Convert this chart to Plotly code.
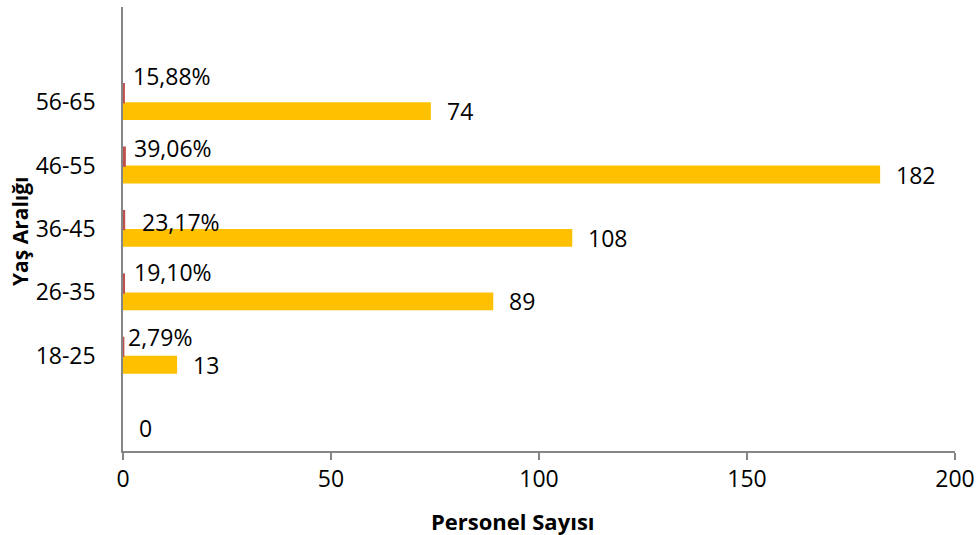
import plotly.graph_objects as go

# ---- data ----
categories = [" ", "18-25", "26-35", "36-45", "46-55", "56-65"]
counts = [0, 13, 89, 108, 182, 74]
percents = [None, 0.0279, 0.1910, 0.2317, 0.3906, 0.1588]
x_ticks = [0, 50, 100, 150, 200]

# ---- style ----
FONT = "Open Sans"
FS = 23
ORANGE = "#FFC000"
RED = "#C0504D"
AXIS = "#868686"
# label nudges (px) for percentage labels, per category (xshift, yshift)
pct_nudge = [(0, 0), (3, 19), (8, 20), (16, 7), (7, 18), (7, 26)]

fig = go.Figure()
fig.add_trace(go.Bar(y=categories, x=counts, orientation="h",
                     marker=dict(color=ORANGE, line=dict(width=0)),
                     name="Personel Sayısı"))
fig.add_trace(go.Bar(y=categories, x=percents, orientation="h",
                     marker=dict(color=RED, line=dict(color=RED, width=2.5)),
                     name="Oran"))

annotations = []
for c, v in zip(categories, counts):
    annotations.append(dict(x=v, y=c, xref="x", yref="y", text=str(v),
                            showarrow=False, xanchor="left", yanchor="middle",
                            xshift=14, yshift=-9,
                            font=dict(family=FONT, size=FS, color="black")))
for (c, p), (dx, dy) in zip(zip(categories, percents), pct_nudge):
    if p is None:
        continue
    annotations.append(dict(x=p, y=c, xref="x", yref="y",
                            text=f"{p*100:.2f}".replace(".", ",") + "%",
                            showarrow=False, xanchor="left", yanchor="middle",
                            xshift=dx, yshift=dy,
                            font=dict(family=FONT, size=FS, color="black")))
annotations.append(dict(x=(513 - 123) / (955 - 123), y=-70 / 444,
                        xref="paper", yref="paper",
                        text="<b>Personel Sayısı</b>", showarrow=False,
                        xanchor="center", yanchor="middle",
                        font=dict(family=FONT, size=22, color="black")))
annotations.append(dict(x=-103 / 832, y=(451 - 232) / 444,
                        xref="paper", yref="paper",
                        text="<b>Yaş Aralığı</b>", showarrow=False, textangle=-90,
                        xanchor="center", yanchor="middle",
                        font=dict(family=FONT, size=21, color="black")))

fig.update_layout(
    width=977, height=535,
    margin=dict(l=123, r=22, t=7, b=84, autoexpand=False),
    plot_bgcolor="white", paper_bgcolor="white",
    barmode="group", bargap=0.4375, bargroupgap=0,
    showlegend=False,
    font=dict(family=FONT, size=FS, color="black"),
    annotations=annotations,
    xaxis=dict(range=[0, 200], tickvals=x_ticks, showgrid=False, zeroline=False,
               automargin=False,
               showline=True, linecolor=AXIS, linewidth=1.5,
               ticks="outside", ticklen=7, tickcolor=AXIS, tickwidth=1.5,
               tickfont=dict(family=FONT, size=FS, color="black")),
    yaxis=dict(type="category", categoryorder="array", categoryarray=categories,
               range=[-0.5, 6.5], showgrid=False, zeroline=False,
               automargin=False,
               showline=True, linecolor=AXIS, linewidth=1.5, ticks="",
               ticklabelstandoff=21,
               tickfont=dict(family=FONT, size=FS, color="black")),
)
fig.write_html("out.html",
               config={"displayModeBar": False},
               post_script="document.body.style.margin='0';"
                           "document.body.style.padding='0';"
                           "document.body.style.overflow='hidden';")
